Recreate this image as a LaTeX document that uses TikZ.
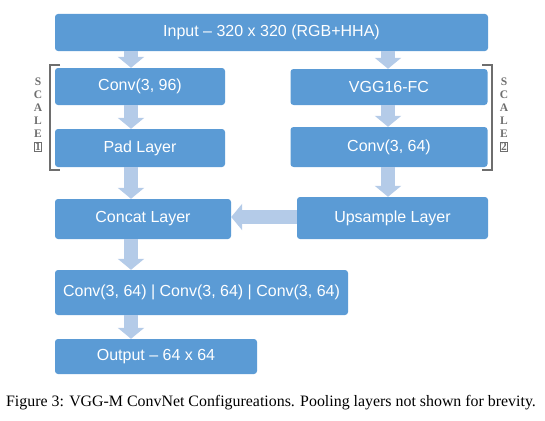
\documentclass[tikz,border=0pt]{standalone}
\usepackage{fontspec}
\setmainfont{Liberation Serif}
\newfontfamily\boxfont{Liberation Sans}
\usetikzlibrary{arrows.meta}
\definecolor{boxblue}{HTML}{5B9BD5}
\definecolor{arrblue}{HTML}{B4CBE8}
\definecolor{brgray}{HTML}{6E6E6E}
\tikzset{
  blk/.style={draw=none, fill=boxblue, rounded corners=3pt, text=white,
    font=\boxfont\fontsize{16}{18}\selectfont, inner sep=0pt},
  barrow/.style={draw=arrblue, line width=14pt,
    -{Triangle[width=26pt,length=11pt]}},
  brk/.style={draw=brgray, line width=2pt},
  scl/.style={text=brgray, font=\bfseries\fontsize{11.5}{12}\selectfont, inner sep=0pt}
}
\begin{document}
\begin{tikzpicture}[x=1pt,y=1pt]
\useasboundingbox (0,0) rectangle (545,-420);
\node[blk, minimum width=433, minimum height=37] (inp) at (271.5,-32.5) {Input – 320 x 320 (RGB+HHA)};
\node[blk, minimum width=170, minimum height=37] (c96) at (140,-86.5) {Conv(3, 96)};
\node[blk, minimum width=197, minimum height=36] (vgg) at (389,-87) {VGG16-FC};
\node[blk, minimum width=170, minimum height=38] (pad) at (140,-148) {Pad Layer};
\node[blk, minimum width=197, minimum height=40] (c64) at (389,-147) {Conv(3, 64)};
\node[blk, minimum width=176, minimum height=40] (cat) at (143,-219) {Concat Layer};
\node[blk, minimum width=191, minimum height=42] (ups) at (392.5,-218) {Upsample Layer};
\node[blk, minimum width=293, minimum height=45] (cnv) at (201.5,-292.5) {Conv(3, 64) | Conv(3, 64) | Conv(3, 64)};
\node[blk, minimum width=202, minimum height=35] (out) at (156,-356.5) {Output – 64 x 64};
% block arrows
\coordinate (la) at (131,0);
\coordinate (ra) at (388,0);
\draw[barrow] (inp.south -| la) -- (c96.north -| la);
\draw[barrow] (inp.south -| ra) -- (vgg.north -| ra);
\draw[barrow] (c96.south -| la) -- (pad.north -| la);
\draw[barrow] (vgg.south -| ra) -- (c64.north -| ra);
\draw[barrow] (pad.south -| la) -- (cat.north -| la);
\draw[barrow] (c64.south -| ra) -- (ups.north -| ra);
\draw[barrow] (ups.west |- 0,-217) -- (cat.east |- 0,-217);
\draw[barrow] (cat.south -| la) -- (cnv.north -| la);
\draw[barrow] (cnv.south -| la) -- (out.north -| la);
% brackets
\draw[brk] (60,-65) -- (50,-65) -- (50,-170) -- (60,-170);
\draw[brk] (482,-65) -- (492,-65) -- (492,-170) -- (482,-170);
% scale labels
\foreach \l/\yy [count=\i] in {S/82,C/95,A/108,L/121,E/134}{
  \node[scl] (sl\i) at (38,-\yy) {\l};
  \node[scl] (sr\i) at (504,-\yy) {\l};
}
\node[scl, draw=brgray, line width=1pt, inner sep=1pt] (s1) at (38,-147) {1};
\node[scl, draw=brgray, line width=1pt, inner sep=1pt] (s2) at (504,-147) {2};
% caption
\node[font=\fontsize{15.9}{18}\selectfont, inner sep=0pt] (cap) at (271,-403) {Figure 3: VGG-M ConvNet Configureations. Pooling layers not shown for brevity.};
\end{tikzpicture}
\end{document}
